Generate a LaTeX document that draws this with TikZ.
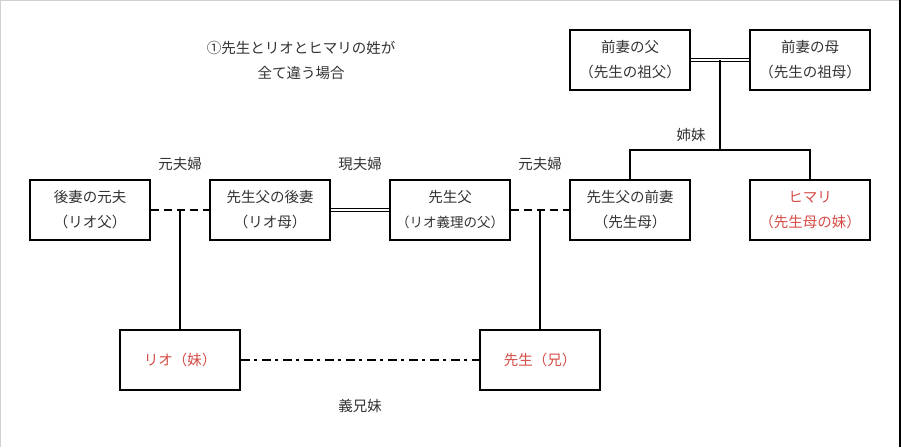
\documentclass[tikz,border=0pt]{standalone}
\usepackage{fontspec}
\setmainfont{Noto Sans CJK JP}
\usetikzlibrary{calc}
\definecolor{txt}{RGB}{51,51,51}
\definecolor{redtxt}{RGB}{214,76,70}
\definecolor{frame}{RGB}{208,208,208}
\tikzset{
  person/.style={draw=black, line width=2.5pt, minimum width=120pt, minimum height=60pt,
    inner sep=0pt, align=center, text=txt, font=\fontsize{14.5}{25}\selectfont},
  redperson/.style={person, text=redtxt},
  lbl/.style={text=txt, font=\fontsize{14.5}{25}\selectfont, inner sep=0pt, align=center},
  conn/.style={line width=2.3pt},
  exline/.style={line width=2.3pt, dash pattern=on 8pt off 5pt},
  marline/.style={double=white, double distance=1.6pt, line width=0.9pt},
  stepline/.style={line width=2.3pt, dash pattern=on 9pt off 4pt on 3pt off 5pt}
}
\begin{document}
\begin{tikzpicture}[x=1pt,y=-1pt]
\useasboundingbox (0,0) rectangle (901,447);
\fill[white] (0,0) rectangle (901,447);
\draw[frame, line width=1pt] (0.5,447) -- (0.5,0.5) -- (899,0.5);
\fill[black] (899,0) rectangle (901,447);

% title
\node[lbl] (title) at (301,60) {①先生とリオとヒマリの姓が\\全て違う場合};

% persons
\node[person] (gp1) at (630,60) {前妻の父\\（先生の祖父）};
\node[person] (gp2) at (810,60) {前妻の母\\（先生の祖母）};
\node[person] (exh) at (90,210) {後妻の元夫\\（リオ父）};
\node[person] (gosai) at (270,210) {先生父の後妻\\（リオ母）};
\node[person] (fath) at (450,210) {先生父\\{\fontsize{13.5}{25}\selectfont（リオ義理の父）}};
\node[person] (zensai) at (630,210) {先生父の前妻\\（先生母）};
\node[redperson] (himari) at (810,210) {ヒマリ\\（先生母の妹）};
\node[redperson] (rio) at (180,360) {リオ（妹）};
\node[redperson] (sensei) at (540,360) {先生（兄）};

% labels
\node[lbl] (l1) at (180,164) {元夫婦};
\node[lbl] (l2) at (360,164) {現夫婦};
\node[lbl] (l3) at (540,164) {元夫婦};
\node[lbl] (l4) at (691,135) {姉妹};
\node[lbl] (l5) at (360,406) {義兄妹};

% couple midpoints
\coordinate (m1) at ($(exh.east)!0.5!(gosai.west)$);
\coordinate (m2) at ($(fath.east)!0.5!(zensai.west)$);
\coordinate (m3) at ($(gp1.east)!0.5!(gp2.west)$);
\coordinate (bar) at ($(m3)+(0,90)$);

% connectors
\draw[exline] (exh.east) -- (gosai.west);
\draw[marline] (gosai.east) -- (fath.west);
\draw[exline] (fath.east) -- (zensai.west);
\draw[marline] (gp1.east) -- (gp2.west);
\draw[conn] (m1) -- (rio.north);
\draw[conn] (m2) -- (sensei.north);
\draw[conn] (m3) -- (bar);
\draw[conn] (zensai.north) |- (bar) -| (himari.north);
\draw[stepline] (rio.east) -- (sensei.west);
\end{tikzpicture}
\end{document}
